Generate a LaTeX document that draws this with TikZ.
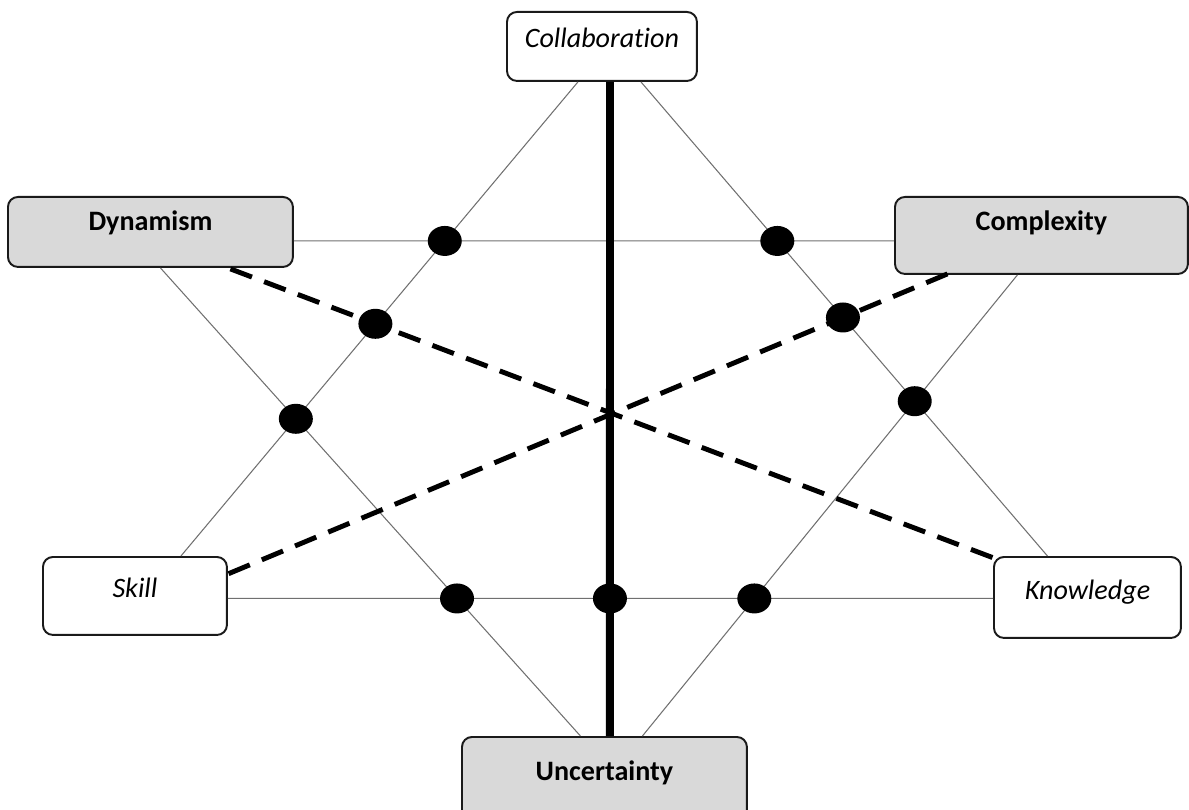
\documentclass[tikz,border=0pt]{standalone}
\usepackage{fontspec}
\setmainfont{Carlito}[Ligatures=NoCommon]
\usetikzlibrary{calc, intersections, shapes.geometric}
\definecolor{cfill}{HTML}{D9D9D9}
\definecolor{cline}{HTML}{707070}
\definecolor{cedge}{HTML}{1A1A1A}
\tikzset{
  every picture/.style={x=0.02cm, y=-0.02cm},
  box/.style={draw=cedge, line width=1.1pt, rounded corners=0.2cm, anchor=north west,
    inner xsep=0pt, inner ysep=0pt, align=center},
  driver/.style={box, fill=cfill, font=\fontsize{16}{19}\selectfont\bfseries},
  factor/.style={box, fill=white, font=\fontsize{16}{19}\selectfont\itshape},
  thin/.style={draw=cline, line width=0.6pt},
  axis/.style={draw=black, line width=4.5pt},
  dashline/.style={draw=black, line width=2.8pt, dash pattern=on 0.46cm off 0.26cm},
  dot/.style={ellipse, fill=black, minimum width=0.68cm, minimum height=0.6cm, inner sep=0pt},
}

\begin{document}
\begin{tikzpicture}
  \useasboundingbox (0,0) rectangle (1189,810);
  % boxes
  \node[factor, minimum width=3.8cm, text height=0.72cm, text depth=0.66cm] (collab) at (506,11) {Collaboration};
  \node[driver, minimum width=5.7cm, text height=0.68cm, text depth=0.72cm] (dyn) at (7,196) {Dynamism};
  \node[driver, minimum width=5.86cm, text height=0.68cm, text depth=0.86cm] (comp) at (894,196) {Complexity};
  \node[factor, minimum width=3.68cm, text height=0.82cm, text depth=0.74cm] (skill) at (42,556) {Skill};
  \node[factor, minimum width=3.74cm, text height=0.86cm, text depth=0.76cm] (know) at (993,556) {Knowledge};
  \node[driver, minimum width=5.7cm, text height=0.88cm, text depth=0.78cm] (unc) at (461,736) {Uncertainty};
  % thin links
  \draw[thin, name path=cs] ($(collab.south)+(-24,0)$) -- ($(skill.north)+(46,0)$);
  \draw[thin, name path=ck] ($(collab.south)+(39,0)$) -- ($(know.north)+(-40,0)$);
  \draw[thin, name path=du] ($(dyn.south)+(10,0)$) -- ($(unc.north)+(-24,0)$);
  \draw[thin, name path=cu] ($(comp.south)+(-24,0)$) -- ($(unc.north)+(38,0)$);
  \draw[thin, name path=top] ($(dyn.east)+(0,9)$) -- ($(comp.west)+(0,5.5)$);
  \draw[thin, name path=bot] ($(skill.east)+(0,2.5)$) -- ($(know.west)+(0,1)$);
  % dashed diagonals
  \draw[dashline, name path=dk] ($(dyn.south)+(80,1)$) -- ($(know.north west)+(6,4)$);
  \draw[dashline, name path=sc] ($(comp.south)+(-94,-1)$) -- ($(skill.east)+(0,-22)$);
  % vertical axis
  \draw[axis, name path=ax] ($(collab.south)+(8,0)$) -- ($(unc.north)+(5.5,0)$);
  % dots at the crossings
  \foreach \a/\b [count=\k] in {cs/top, ck/top, cs/dk, ck/sc, cs/du, ck/cu, du/bot, ax/bot, cu/bot}
    \path[name intersections/.expanded={of=\a\space and \b}] (intersection-1) node[dot] (dot\k) {};
\end{tikzpicture}
\end{document}
